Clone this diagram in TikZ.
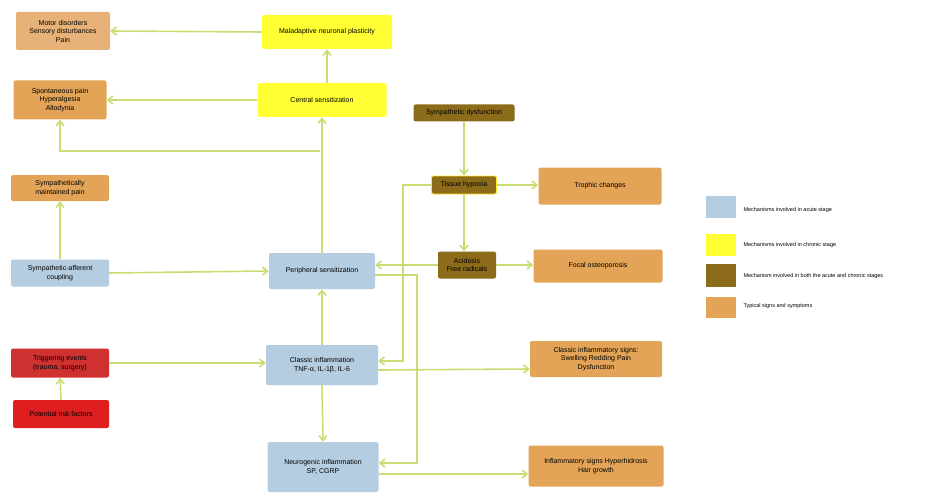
\documentclass[tikz,border=0pt]{standalone}
\usepackage{fontspec}
\setmainfont{Liberation Sans}
\usetikzlibrary{arrows.meta}
\definecolor{acute}{HTML}{B5CDE0}
\definecolor{chronic}{HTML}{FFFF33}
\definecolor{both}{HTML}{8C6B1A}
\definecolor{sign}{HTML}{E3A457}
\definecolor{signlt}{HTML}{E6B277}
\definecolor{trig}{HTML}{CF3030}
\definecolor{risk}{HTML}{DF1F1F}
\definecolor{link}{HTML}{C8DE72}
\tikzset{
  box/.style={rounded corners=2pt,align=center,inner sep=1pt,font=\fontsize{7}{8.5}\selectfont},
  lnk/.style={draw=link,line width=1.6pt,-{Straight Barb[length=5pt,width=8pt]}},
  legend/.style={anchor=west,font=\fontsize{5.5}{6}\selectfont}
}
\begin{document}
\begin{tikzpicture}[x=1pt,y=-1pt]
  \useasboundingbox (0,0) rectangle (928,500);
  % signs and symptoms
  \node[box,fill=signlt,minimum width=94pt,minimum height=38pt] (motor) at (63,31) {Motor disorders\\Sensory disturbances\\Pain};
  \node[box,fill=sign,minimum width=93pt,minimum height=39pt] (spont) at (60,100) {Spontaneous pain\\Hyperalgesia\\Allodynia};
  \node[box,fill=sign,minimum width=98pt,minimum height=26pt] (smp) at (60,188) {Sympathetically\\maintained pain};
  \node[box,fill=acute,minimum width=98pt,minimum height=27pt] (saf) at (60,273) {Sympathetic-afferent\\coupling};
  \node[box,fill=trig,minimum width=98pt,minimum height=29pt] (trigger) at (60,363) {Triggering events\\(trauma, surgery)};
  \node[box,fill=risk,minimum width=96pt,minimum height=28pt] (riskf) at (61,414) {Potential risk factors};
  % mechanisms
  \node[box,fill=chronic,minimum width=130pt,minimum height=34pt] (malad) at (327,32) {Maladaptive neuronal plasticity};
  \node[box,fill=chronic,minimum width=129pt,minimum height=34pt] (central) at (322,100) {Central sensitization};
  \node[box,fill=acute,minimum width=106pt,minimum height=36pt] (periph) at (322,271) {Peripheral sensitization};
  \node[box,fill=acute,minimum width=112pt,minimum height=40pt] (classic) at (322,365) {Classic inflammation\\TNF-α, IL-1β, IL-6};
  \node[box,fill=acute,minimum width=111pt,minimum height=50pt] (neuro) at (323,467) {Neurogenic inflammation\\SP, CGRP};
  \node[box,fill=both,minimum width=101pt,minimum height=17pt] (symdys) at (464,113) {Sympathetic dysfunction};
  \node[box,fill=both,draw=chronic!80!orange,line width=0.8pt,minimum width=65pt,minimum height=18pt] (hypoxia) at (464,185) {Tissue hypoxia};
  \node[box,fill=both,minimum width=58pt,minimum height=27pt] (acid) at (467,265) {Acidosis\\Free radicals};
  \node[box,fill=sign,minimum width=123pt,minimum height=37pt] (trophic) at (600,186) {Trophic changes};
  \node[box,fill=sign,minimum width=129pt,minimum height=33pt] (focal) at (598,266) {Focal osteoporosis};
  \node[box,fill=sign,minimum width=132pt,minimum height=36pt] (csigns) at (596,359) {Classic inflammatory signs:\\Swelling Redding Pain\\Dysfunction};
  \node[box,fill=sign,minimum width=135pt,minimum height=41pt] (isigns) at (596,466) {Inflammatory signs Hyperhidrosis\\Hair growth};
  % connectors
  \coordinate (split) at (320,151);
  \draw[lnk] (malad.west) -- (motor.east);
  \draw[lnk] (central.north -| malad) -- (malad.south);
  \draw[lnk] (central.west) -- (spont.east);
  \draw[lnk] (periph.north) -- (central.south);
  \draw[lnk] (split) -| (spont.south);
  \draw[lnk] (saf.north) -- (smp.south);
  \draw[lnk] (saf.east) -- (periph.west);
  \draw[lnk] (trigger.east) -- (trigger.east -| classic.west);
  \draw[lnk] (riskf.north) -- (trigger.south);
  \draw[lnk] (classic.north) -- (periph.south);
  \draw[lnk] (classic.south) -- (neuro.north);
  \draw[lnk] (symdys.south) -- (hypoxia.north);
  \draw[lnk] (hypoxia.south) -- (hypoxia.south |- acid.north);
  \draw[lnk] (hypoxia.east) -- (hypoxia.east -| trophic.west);
  \draw[lnk] (acid.west) -- (acid.west -| periph.east);
  \draw[lnk] (acid.east) -- (acid.east -| focal.west);
  \draw[lnk] (hypoxia.west) -- (403,185) -- (403,361) -- (classic.east |- 0,361);
  \draw[lnk] ([yshift=-4pt]periph.east) -- (417,275) -- (417,463) -- (neuro.east |- 0,463);
  \draw[lnk] ([yshift=-5pt]classic.east) -- ([yshift=-10pt]csigns.west);
  \draw[lnk] ([yshift=-7pt]neuro.east) -- ([yshift=-7pt]neuro.east -| isigns.west);
  % legend
  \fill[acute] (706,196) rectangle (736,218);
  \fill[chronic] (706,234) rectangle (736,256);
  \fill[both] (706,264) rectangle (736,287);
  \fill[sign] (706,297) rectangle (736,318);
  \node[legend] (lacute) at (740,210) {Mechanisms involved in acute stage};
  \node[legend] (lchronic) at (740,245) {Mechanisms involved in chronic stage};
  \node[legend] (lboth) at (740,276) {Mechanism involved in both the acute and chronic stages};
  \node[legend] (lsign) at (740,306) {Typical signs and symptoms};
\end{tikzpicture}
\end{document}
